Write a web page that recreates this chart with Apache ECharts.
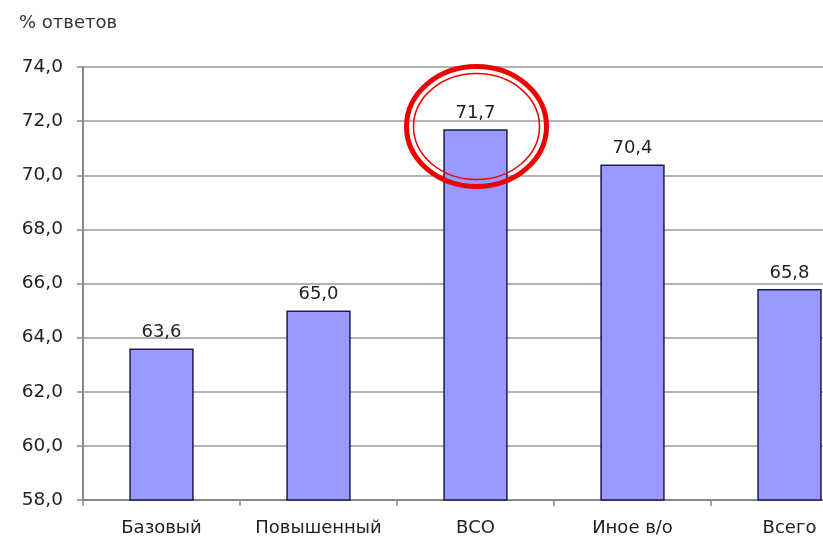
<!DOCTYPE html>
<html><head><meta charset="utf-8">
<script src="https://cdn.jsdelivr.net/npm/echarts@6/dist/echarts.min.js"></script>
<style>html,body{margin:0;padding:0;background:#fff;overflow:hidden}#c{width:870px;height:541px}</style>
</head><body><div id="c"></div>
<script>
const categories = ['Базовый', 'Повышенный', 'ВСО', 'Иное в/о', 'Всего'];
const values = [63.6, 65.0, 71.7, 70.4, 65.8];
const yMin = 58, yMax = 74, yStep = 2;
const highlightCategory = 'ВСО';
const unitLabel = '% ответов';

const fmt = v => v.toFixed(1).replace('.', ',');
const FONT = 'DejaVu Sans';
const chart = echarts.init(document.getElementById('c'));
chart.setOption({
  animation: false,
  backgroundColor: '#fff',
  title: { text: unitLabel, left: 14, top: 9, textStyle: { fontFamily: FONT, fontSize: 18, fontWeight: 'normal', color: '#333' } },
  grid: { left: 83, top: 67, right: 2, bottom: 41, containLabel: false },
  xAxis: {
    type: 'category', data: categories,
    axisLine: { lineStyle: { color: '#888', width: 2 } },
    axisTick: { show: true, alignWithLabel: false, length: 6, lineStyle: { color: '#888', width: 1.5 } },
    axisLabel: { interval: 0, fontFamily: FONT, fontSize: 18, color: '#222', margin: 19 }
  },
  yAxis: {
    type: 'value', min: yMin, max: yMax, interval: yStep,
    axisLine: { show: true, lineStyle: { color: '#888', width: 2 } },
    axisTick: { show: true, length: 6, lineStyle: { color: '#888', width: 1.5 } },
    splitLine: { lineStyle: { color: '#9a9a9a', width: 1.5 } },
    axisLabel: { fontFamily: FONT, fontSize: 18.5, color: '#222', margin: 20, formatter: v => fmt(v) }
  },
  series: [{
    type: 'bar', data: values, barWidth: '41%',
    itemStyle: { color: '#9999ff', borderColor: '#1c1c50', borderWidth: 1.5 },
    label: { show: true, position: 'top', distance: 7, fontFamily: FONT, fontSize: 18, color: '#222', formatter: p => fmt(p.value) }
  }]
});
const idx = categories.indexOf(highlightCategory);
const c = chart.convertToPixel({ gridIndex: 0 }, [idx, values[idx] + 0.1]);
chart.setOption({
  graphic: [
    { type: 'ellipse', shape: { cx: c[0] + 1, cy: c[1], rx: 70, ry: 60 }, style: { fill: null, stroke: '#ee0000', lineWidth: 5 }, z: 100 },
    { type: 'ellipse', shape: { cx: c[0] + 1, cy: c[1], rx: 63, ry: 53 }, style: { fill: null, stroke: '#ee0000', lineWidth: 1.5 }, z: 100 }
  ]
});
</script></body></html>
